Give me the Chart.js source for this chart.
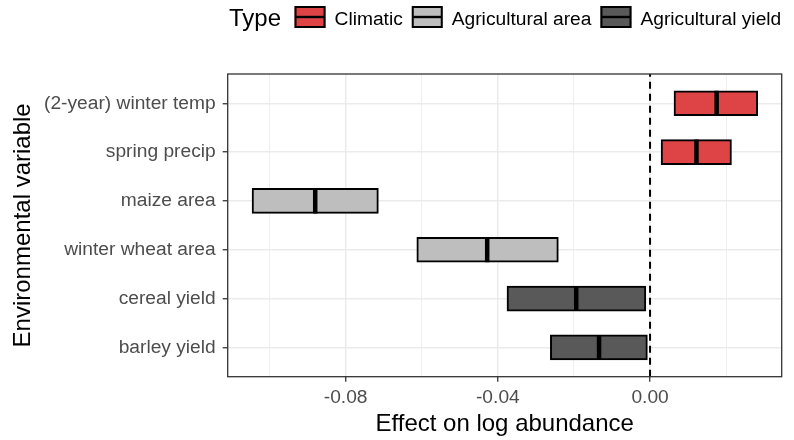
<!DOCTYPE html>
<html>
<head>
<meta charset="utf-8">
<script src="https://cdn.jsdelivr.net/npm/chart.js@4.4.0/dist/chart.umd.min.js"></script>
<style>
html,body{margin:0;padding:0;background:#ffffff;}
#wrap{width:794px;height:440px;position:relative;}
</style>
</head>
<body>
<div id="wrap"><canvas id="c" width="794" height="440"></canvas></div>
<script>
// ---- data ----
const categories = ['(2-year) winter temp', 'spring precip', 'maize area', 'winter wheat area', 'cereal yield', 'barley yield'];
const categoryTypes = ['Climatic', 'Climatic', 'Agricultural area', 'Agricultural area', 'Agricultural yield', 'Agricultural yield'];
const lowerValues = [0.0063, 0.0029, -0.1046, -0.0613, -0.0376, -0.0262];
const upperValues = [0.0283, 0.0214, -0.0714, -0.0241, -0.0011, -0.0007];
const medianValues = [0.0175, 0.0122, -0.0880, -0.0428, -0.0194, -0.0134];
const typeNames = ['Climatic', 'Agricultural area', 'Agricultural yield'];
const typeColors = ['#DE4445', '#BEBEBE', '#595959'];
const majorTicks = [-0.08, -0.04, 0.00];
const minorTicks = [-0.10, -0.06, -0.02, 0.02];
const xLimits = [-0.1110, 0.0346];
const referenceLine = 0;
const legendTitle = 'Type';
const xTitle = 'Effect on log abundance';
const yTitle = 'Environmental variable';

const FONT = '"Liberation Sans", Arial, Helvetica, sans-serif';
Chart.defaults.font.family = FONT;

// ---- datasets ----
const barDatasets = typeNames.map((t, k) => ({
  type: 'bar',
  label: t,
  indexAxis: 'y',
  data: categories.map((c, i) => i).filter(i => categoryTypes[i] === t)
        .map(i => ({ x: [lowerValues[i], upperValues[i]], y: i })),
  backgroundColor: typeColors[k],
  borderColor: '#000000',
  borderWidth: 2,
  borderSkipped: false,
  barThickness: 25,
  grouped: false,
  order: 2
}));

const medianDataset = {
  type: 'scatter',
  label: 'median',
  data: categories.map((c, i) => ({ x: medianValues[i], y: i })),
  pointStyle: 'line',
  pointRotation: 90,
  pointRadius: 12.5,
  pointBorderWidth: 4.5,
  pointBorderColor: '#000000',
  pointBackgroundColor: '#000000',
  showLine: false,
  order: 1
};

const panelPlugin = {
  id: 'panel',
  beforeDatasetsDraw(chart) {
    const { ctx, chartArea } = chart;
    const px = chart.scales.x.getPixelForValue(referenceLine);
    ctx.save();
    ctx.strokeStyle = '#000000';
    ctx.lineWidth = 2;
    ctx.setLineDash([7, 5]);
    ctx.beginPath();
    ctx.moveTo(px, chartArea.bottom);
    ctx.lineTo(px, chartArea.top);
    ctx.stroke();
    ctx.restore();
  },
  afterDraw(chart) {
    const { ctx, chartArea } = chart;
    ctx.save();
    // panel border
    ctx.strokeStyle = '#333333';
    ctx.lineWidth = 1.3;
    ctx.strokeRect(chartArea.left, chartArea.top, chartArea.right - chartArea.left, chartArea.bottom - chartArea.top);
    // legend
    ctx.fillStyle = '#000000';
    ctx.textBaseline = 'alphabetic';
    ctx.textAlign = 'left';
    ctx.font = '24px ' + FONT;
    let x = 229;
    ctx.fillText(legendTitle, x, 25.5);
    x += ctx.measureText(legendTitle).width + 13.5;
    ctx.font = '19.2px ' + FONT;
    typeNames.forEach((t, k) => {
      const kw = 31, kh = 22, ky = 6;
      ctx.fillStyle = typeColors[k];
      ctx.fillRect(x, ky, kw, kh);
      ctx.strokeStyle = '#000000';
      ctx.lineWidth = 2;
      ctx.strokeRect(x + 1, ky + 1, kw - 2, kh - 2);
      ctx.lineWidth = 2.4;
      ctx.beginPath();
      ctx.moveTo(x + 1, ky + kh / 2);
      ctx.lineTo(x + kw - 1, ky + kh / 2);
      ctx.stroke();
      x += kw + 9;
      ctx.fillStyle = '#000000';
      ctx.fillText(t, x, 24.5);
      x += ctx.measureText(t).width + 9;
    });
    ctx.restore();
  }
};

new Chart(document.getElementById('c'), {
  type: 'bar',
  data: { datasets: [medianDataset, ...barDatasets] },
  options: {
    responsive: false,
    animation: false,
    events: [],
    indexAxis: 'y',
    layout: { autoPadding: false, padding: { top: 74, right: 12.3, left: 0, bottom: 0 } },
    plugins: { legend: { display: false }, tooltip: { enabled: false } },
    scales: {
      x: {
        type: 'linear',
        position: 'bottom',
        offset: false,
        min: xLimits[0],
        max: xLimits[1],
        afterBuildTicks: s => {
          s.ticks = [...minorTicks, ...majorTicks].sort((a, b) => a - b).map(v => ({ value: v }));
        },
        ticks: {
          callback: v => majorTicks.includes(v) ? v.toFixed(2) : '',
          autoSkip: false,
          maxRotation: 0,
          font: { size: 19.2 },
          color: '#4D4D4D',
          padding: 4
        },
        grid: {
          offset: false,
          color: '#EBEBEB',
          lineWidth: c => (c.tick && majorTicks.includes(c.tick.value)) ? 1.5 : 0.8,
          tickLength: 5,
          tickWidth: 1.3,
          tickColor: c => (c.tick && majorTicks.includes(c.tick.value)) ? '#333333' : 'rgba(0,0,0,0)'
        },
        border: { display: false },
        title: { display: true, text: xTitle, color: '#000000', font: { size: 24 }, padding: { top: 2, bottom: 1.2 } },
        afterFit: s => { s.height = 63.3; s.paddingLeft = 0; s.paddingRight = 0; }
      },
      y: {
        type: 'linear',
        position: 'left',
        offset: false,
        reverse: true,
        min: -0.6,
        max: categories.length - 0.4,
        afterBuildTicks: s => { s.ticks = categories.map((c, i) => ({ value: i })); },
        ticks: {
          callback: v => categories[v],
          autoSkip: false,
          font: { size: 19.2 },
          color: '#4D4D4D',
          padding: 7
        },
        grid: {
          offset: false,
          color: '#EBEBEB',
          lineWidth: 1.5,
          tickLength: 5,
          tickWidth: 1.3,
          tickColor: '#333333'
        },
        border: { display: false },
        title: { display: true, text: yTitle, color: '#000000', font: { size: 24 }, padding: { top: 9, bottom: 0 } },
        afterFit: s => { s.width = 227.7; s.paddingTop = 0; s.paddingBottom = 0; }
      }
    }
  },
  plugins: [panelPlugin]
});
</script>
</body>
</html>
